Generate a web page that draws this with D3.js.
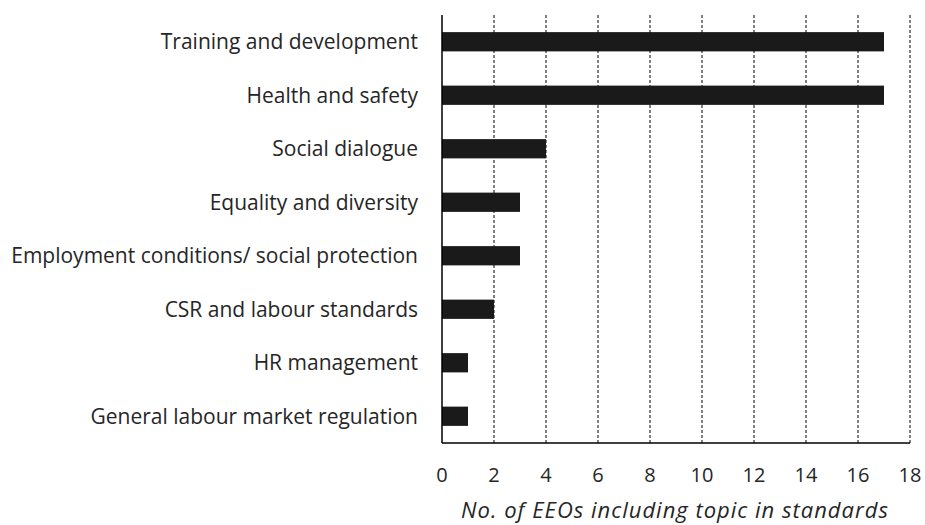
<!DOCTYPE html>
<html><head><meta charset="utf-8">
<script src="https://cdn.jsdelivr.net/npm/d3@7"></script>
<style>body{margin:0;background:#fff}</style>
</head><body>
<svg id="c" width="925" height="525"></svg>
<script>
const categories = ["Training and development","Health and safety","Social dialogue","Equality and diversity","Employment conditions/ social protection","CSR and labour standards","HR management","General labour market regulation"];
const values = [17,17,4,3,3,2,1,1];
const ticks = [0,2,4,6,8,10,12,14,16,18];
const xTitle = "No. of EEOs including topic in standards";

const svg = d3.select("#c");
const L=442,R=910,T=15,B=443;
const font = "Open Sans, Carlito, sans-serif";
const x = d3.scaleLinear().domain([0,18]).range([L,R]);
const y = d3.scaleBand().domain(categories).range([T,B]).paddingInner(0.64).paddingOuter(0.32);

svg.append("g").selectAll("line").data(ticks.slice(1)).join("line")
  .attr("x1",d=>x(d)).attr("x2",d=>x(d)).attr("y1",T).attr("y2",B)
  .attr("stroke","#000").attr("stroke-width",1).attr("stroke-dasharray","3,2");

svg.append("g").selectAll("rect").data(values).join("rect")
  .attr("x",x(0)).attr("y",(d,i)=>y(categories[i])).attr("width",d=>x(d)-x(0))
  .attr("height",y.bandwidth()).attr("fill","#1a1a1a");

svg.append("line").attr("x1",L).attr("x2",L).attr("y1",T).attr("y2",B).attr("stroke","#000").attr("stroke-width",1.5);
svg.append("line").attr("x1",L).attr("x2",R).attr("y1",B).attr("y2",B).attr("stroke","#000").attr("stroke-width",1.5);

svg.append("g").selectAll("text").data(categories).join("text")
  .attr("x",418).attr("y",d=>y(d)+y.bandwidth()/2).attr("dy","0.35em")
  .attr("text-anchor","end").attr("font-family",font).attr("font-size",21).attr("fill","#262626")
  .text(d=>d);

svg.append("g").selectAll("text").data(ticks).join("text")
  .attr("x",d=>x(d)).attr("y",482).attr("text-anchor","middle")
  .attr("font-family",font).attr("font-size",20).attr("fill","#262626").text(d=>d);

svg.append("text").attr("x",(L+R)/2-1).attr("y",518).attr("text-anchor","middle")
  .attr("font-family",font).attr("font-size",22).attr("letter-spacing",1).attr("font-style","italic").attr("fill","#262626").text(xTitle);
</script>
</body></html>
